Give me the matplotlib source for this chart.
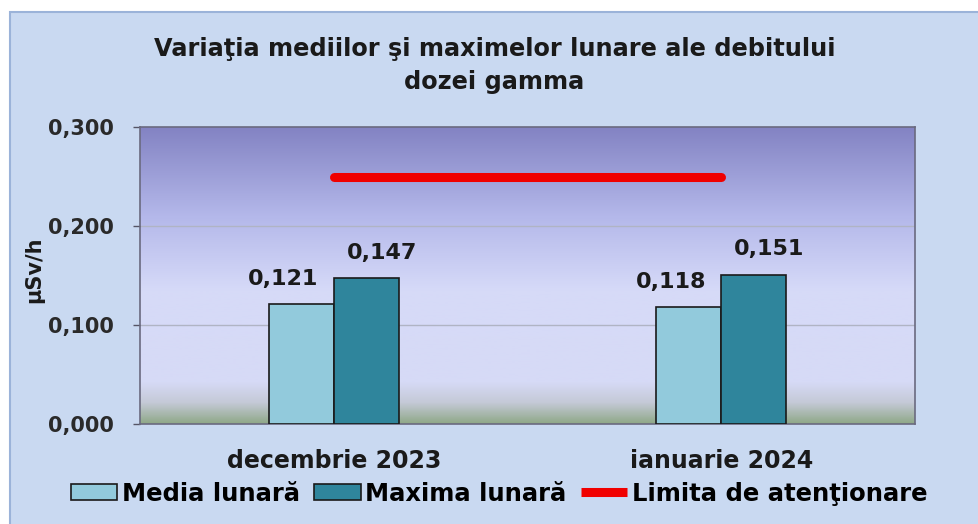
import matplotlib
matplotlib.use("Agg")
import matplotlib.pyplot as plt
import numpy as np
from matplotlib.colors import LinearSegmentedColormap
from matplotlib.patches import Rectangle, Patch
from matplotlib.lines import Line2D
from matplotlib.ticker import FuncFormatter

categories = ["decembrie 2023", "ianuarie 2024"]
media = [0.121, 0.118]
maxima = [0.147, 0.151]
limita = [0.25, 0.25]
labels_media = ["0,121", "0,118"]
labels_maxima = ["0,147", "0,151"]
yticks = [0.0, 0.1, 0.2, 0.3]

plt.rcParams['font.family'] = ['DejaVu Sans']
fig = plt.figure(figsize=(9.79, 5.24), dpi=100, facecolor='white')

# chart area background
bg = Rectangle((10/979, -0.01), 1.0, (524-12)/524 + 0.01, transform=fig.transFigure,
               facecolor='#c9d9f1', edgecolor='#9bb3d9', linewidth=1.5, zorder=-10)
fig.patches.append(bg)

ax = fig.add_axes([140/979, (524-424)/524, (915-140)/979, (424-127)/524])
ax.set_xlim(-0.5, 1.5)
ax.set_ylim(0, 0.3)

# gradient background
stops = [(0.0, '#8fa888'), (0.07, '#c4c9d6'), (0.14, '#d6daf6'), (0.45, '#d6daf8'),
         (0.7, '#b4b8ea'), (1.0, '#8383c3')]
cmap = LinearSegmentedColormap.from_list('g', stops)
grad = np.linspace(0, 1, 256).reshape(-1, 1)
ax.imshow(grad, aspect='auto', cmap=cmap, origin='lower',
          extent=[-0.5, 1.5, 0, 0.3], zorder=0)

for y in [0.1, 0.2]:
    ax.axhline(y, color='#b0b4c4', linewidth=1.0, zorder=1)

x = np.arange(len(categories))
w = 0.168
b1 = ax.bar(x - w/2, media, w, color='#92cadc', edgecolor='#1a1a1a', linewidth=1.2, zorder=3)
b2 = ax.bar(x + w/2, maxima, w, color='#2f859c', edgecolor='#1a1a1a', linewidth=1.2, zorder=3)
ax.plot(x, limita, color='#f00000', linewidth=6.5, solid_capstyle='round', zorder=4)

for i in range(len(categories)):
    ax.annotate(labels_media[i], (x[i] - w/2, media[i]), xytext=(-13, 11),
                textcoords='offset points', ha='center', va='bottom',
                fontsize=16, fontweight='bold', color='#1a1a1a', zorder=5)
    ax.annotate(labels_maxima[i], (x[i] + w/2, maxima[i]), xytext=(11, 11),
                textcoords='offset points', ha='center', va='bottom',
                fontsize=16, fontweight='bold', color='#1a1a1a', zorder=5)

ax.set_yticks(yticks)
ax.yaxis.set_major_formatter(FuncFormatter(lambda v, p: f"{v:.3f}".replace('.', ',')))
ax.set_xticks(x)
ax.set_xticklabels(categories, fontsize=17, fontweight='bold', color='#1a1a1a')
ax.tick_params(axis='y', labelsize=15, colors='#555566', length=5, width=1, pad=14)
for lab in ax.get_yticklabels():
    lab.set_fontweight('bold'); lab.set_color('#2a2a2a')
ax.tick_params(axis='x', length=0, pad=18)
for s in ['left', 'bottom', 'top', 'right']:
    ax.spines[s].set_color('#6a6a80')
    ax.spines[s].set_linewidth(1.2)

ax.set_ylabel("µSv/h", fontsize=15, fontweight='bold', color='#1a1a1a')
ax.yaxis.set_label_coords(-0.124, 0.52)

fig.text(0.505, 0.875, "Variaţia mediilor şi maximelor lunare ale debitului\ndozei gamma",
         ha='center', va='center', fontsize=17.3, fontweight='bold', color='#1a1a1a',
         linespacing=1.5)

handles = [Patch(facecolor='#92cadc', edgecolor='#1a1a1a', linewidth=1.2),
           Patch(facecolor='#2f859c', edgecolor='#1a1a1a', linewidth=1.2),
           Line2D([0], [0], color='#f00000', linewidth=6.5, solid_capstyle='butt')]
leg = fig.legend(handles, ["Media lunară", "Maxima lunară", "Limita de atenţionare"],
                 loc='center', bbox_to_anchor=(0.510, 0.058), ncol=3, frameon=False,
                 prop={'size': 17.5, 'weight': 'bold'}, handlelength=1.9, handleheight=0.6,
                 handletextpad=0.2, columnspacing=0.6, borderaxespad=0)

fig.savefig("out.png", dpi=100, facecolor='white')
